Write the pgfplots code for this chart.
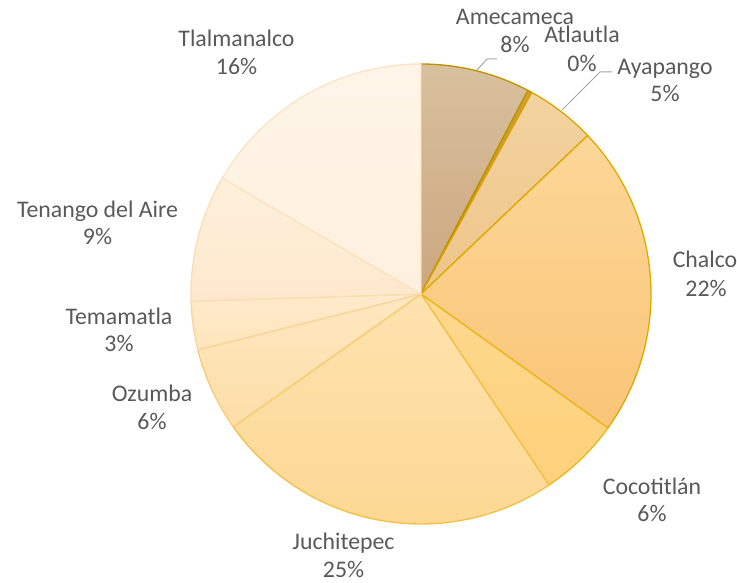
\documentclass[border=0pt]{standalone}
\usepackage{pgfplots}
\pgfplotsset{compat=1.18}
\usepackage{fontspec}
\setmainfont{Carlito}
\definecolor{lbl}{HTML}{595959}
\definecolor{lead}{HTML}{A6A6A6}
% slice colours (top / bottom / edge)
\definecolor{ameT}{HTML}{D8C09E}\definecolor{ameB}{HTML}{CCA77F}\definecolor{ameE}{HTML}{BF9000}
\definecolor{atlT}{HTML}{CFA23A}\definecolor{atlB}{HTML}{C49628}\definecolor{atlE}{HTML}{BF9000}
\definecolor{ayaT}{HTML}{F3D3A0}\definecolor{ayaB}{HTML}{EEC58A}\definecolor{ayaE}{HTML}{D9A400}
\definecolor{chaT}{HTML}{FCD798}\definecolor{chaB}{HTML}{F9C577}\definecolor{chaE}{HTML}{E0A800}
\definecolor{cocT}{HTML}{FDD88E}\definecolor{cocB}{HTML}{FDD17A}\definecolor{cocE}{HTML}{EDB520}
\definecolor{jucT}{HTML}{FEE2AE}\definecolor{jucB}{HTML}{FDD894}\definecolor{jucE}{HTML}{F4BF45}
\definecolor{ozuT}{HTML}{FEE7C0}\definecolor{ozuB}{HTML}{FDDEA8}\definecolor{ozuE}{HTML}{F7CC78}
\definecolor{temT}{HTML}{FEEBCC}\definecolor{temB}{HTML}{FEE4BA}\definecolor{temE}{HTML}{F9D59C}
\definecolor{tenT}{HTML}{FEF0DC}\definecolor{tenB}{HTML}{FEE8CC}\definecolor{tenE}{HTML}{FADDB2}
\definecolor{tlaT}{HTML}{FEF5E8}\definecolor{tlaB}{HTML}{FEF0DE}\definecolor{tlaE}{HTML}{FBE3C4}
\newcommand\cum{0}
% #1 value (percent), #2 colour prefix
\newcommand\slice[2]{%
  \pgfmathsetmacro\aS{90-3.6*(\cum+#1)}%
  \pgfmathsetmacro\aE{90-3.6*\cum}%
  \pgfmathsetmacro\newcum{\cum+#1}%
  \xdef\cum{\newcum}%
  \edef\tmp{\noexpand\addplot[top color=#2T,bottom color=#2B,draw=#2E,line width=1.3pt,line join=round,domain=\aS:\aE,samples=80]
    ({421+230*cos(x)},{289+230*sin(x)}) -- (axis cs:421,289) -- cycle;}%
  \tmp}
\begin{document}
\begin{tikzpicture}
\useasboundingbox (0,0) rectangle (737pt,583pt);
\begin{axis}[width=737pt,height=583pt,scale only axis,hide axis,clip=false,
  anchor=south west,at={(0,0)},
  xmin=0,xmax=737,ymin=0,ymax=583]
% values in percent, clockwise from 12 o'clock
\slice{7.7}{ame}  % Amecameca
\slice{0.3}{atl}  % Atlautla
\slice{4.9}{aya}  % Ayapango
\slice{22.0}{cha} % Chalco
\slice{5.7}{coc}  % Cocotitlan
\slice{24.6}{juc} % Juchitepec
\slice{5.9}{ozu}  % Ozumba
\slice{3.4}{tem}  % Temamatla
\slice{8.9}{ten}  % Tenango del Aire
\slice{16.6}{tla} % Tlalmanalco
% leader lines
\draw[lead,line width=1pt] (axis cs:477,513) -- (axis cs:487,524) -- (axis cs:497,524);
\draw[lead,line width=1pt] (axis cs:562,473) -- (axis cs:600,511) -- (axis cs:612,511);
% labels
\begin{scope}[every node/.style={anchor=base,text=lbl,font=\fontsize{23.8}{28}\selectfont,inner sep=0pt}]
\node at (axis cs:515,558) {Amecameca};   \node at (axis cs:515,530) {8\%};
\node at (axis cs:582,540) {Atlautla};    \node at (axis cs:582,511) {0\%};
\node at (axis cs:665,508) {Ayapango};    \node at (axis cs:665,481) {5\%};
\node at (axis cs:705,315) {Chalco};      \node at (axis cs:706,286) {22\%};
\node at (axis cs:652,88) {Cocotitlán};   \node at (axis cs:652,61) {6\%};
\node at (axis cs:343.5,33) {Juchitepec}; \node at (axis cs:343.5,5) {25\%};
\node at (axis cs:152,181) {Ozumba};      \node at (axis cs:152,153) {6\%};
\node at (axis cs:119,258) {Temamatla};   \node at (axis cs:119,231) {3\%};
\node at (axis cs:97.5,365) {Tenango del Aire}; \node at (axis cs:97.5,338) {9\%};
\node at (axis cs:236.5,536) {Tlalmanalco}; \node at (axis cs:236.5,508) {16\%};
\end{scope}
\end{axis}
\end{tikzpicture}
\end{document}
